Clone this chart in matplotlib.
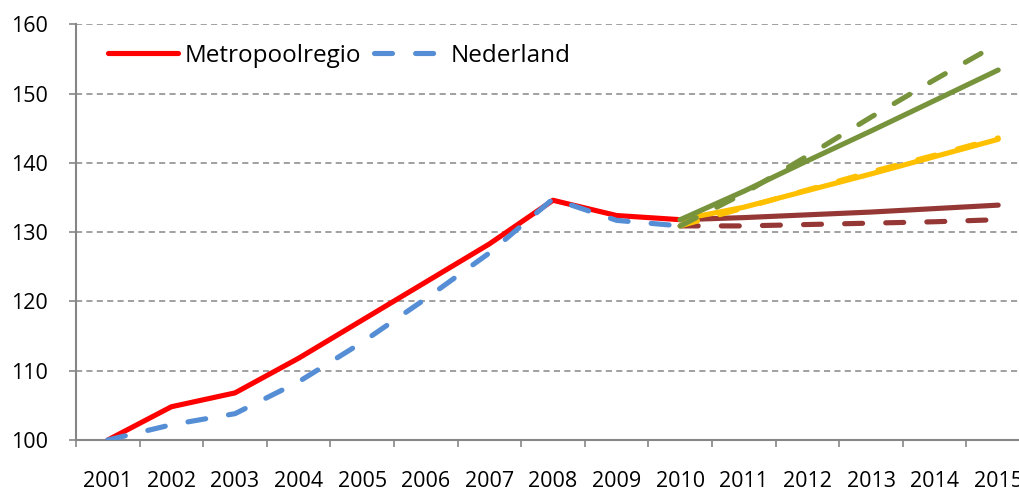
import matplotlib
matplotlib.use("Agg")
import matplotlib.pyplot as plt
import numpy as np

# data
years = ['2001', '2002', '2003', '2004', '2005', '2006', '2007', '2008',
         '2009', '2010', '2011', '2012', '2013', '2014', '2015']
metro = [100, 104.8, 106.8, 111.8, 117.3, 122.8, 128.3, 134.6, 132.4, 131.8]
nederland = [100, 102.2, 103.8, 108.4, 114.1, 120.4, 127.0, 134.8, 131.7, 130.9]

# projections 2010-2015
hoog_metro = [131.8, 135.9, 140.3, 144.6, 149.0, 153.4]
hoog_nl = [130.9, 135.6, 141.0, 146.6, 152.0, 157.2]
mid_metro = [131.8, 133.6, 136.0, 138.4, 140.9, 143.4]
mid_nl = [130.9, 133.5, 136.1, 138.7, 141.1, 143.6]
laag_metro = [131.8, 132.1, 132.5, 132.9, 133.4, 133.9]
laag_nl = [130.9, 130.9, 131.1, 131.3, 131.5, 131.8]

plt.rcParams['font.family'] = ['Open Sans', 'DejaVu Sans']

fig = plt.figure(figsize=(10.19, 4.92), dpi=100)
ax = fig.add_axes([76/1019, 52/492, 954/1019, 415.7/492])

x = np.arange(len(years))
xh = x[:len(metro)]
xp = x[len(metro)-1:]

lw = 3.7
dash = (0, (3.5, 4.5))
grey = '#868686'

ax.plot(xh, metro, color='#FF0000', lw=lw, solid_capstyle='round',
        solid_joinstyle='round', label='Metropoolregio', zorder=3)
ax.plot(xh, nederland, color='#558ED5', lw=lw, ls=dash, dash_capstyle='round',
        label='Nederland', zorder=4)

ax.plot(xp, laag_metro, color='#953735', lw=lw, solid_capstyle='round', zorder=3)
ax.plot(xp, laag_nl, color='#953735', lw=lw, ls=dash, dash_capstyle='round', zorder=3)
ax.plot(xp, mid_metro, color='#FFC000', lw=lw, solid_capstyle='round', zorder=3)
ax.plot(xp, mid_nl, color='#FFC000', lw=lw, ls=dash, dash_capstyle='round', zorder=3)
ax.plot(xp, hoog_nl, color='#77933C', lw=lw, ls=dash, dash_capstyle='round', zorder=3)
ax.plot(xp, hoog_metro, color='#77933C', lw=lw, solid_capstyle='round', zorder=3)

ax.set_xlim(-0.5, len(years) - 0.5)
ax.set_ylim(100, 160)
ax.set_yticks(np.arange(100, 161, 10))
ax.set_xticks(np.arange(-0.5, len(years), 1))
ax.set_xticklabels([])
ax.set_xticks(x, minor=True)
ax.set_xticklabels(years, minor=True)

ax.tick_params(axis='x', which='major', length=5, width=1.2, color=grey)
ax.tick_params(axis='x', which='minor', length=0, pad=22, labelsize=15.5)
ax.tick_params(axis='y', length=5, width=1.2, color=grey, pad=15, labelsize=15.5)

ax.yaxis.grid(True, color=grey, lw=1.1, ls=(0, (4, 2.8)))
ax.set_axisbelow(True)
for s in ['top', 'right']:
    ax.spines[s].set_visible(False)
for s in ['left', 'bottom']:
    ax.spines[s].set_color(grey)
    ax.spines[s].set_linewidth(1.5)
    ax.spines[s].set_zorder(2)

ax.legend(loc='center left', bbox_to_anchor=(0.0335, 0.924), ncol=2,
          frameon=False, fontsize=17.5, borderpad=0, borderaxespad=0,
          handlelength=2.9, handletextpad=0.25, columnspacing=0.55)

fig.savefig('out.png', dpi=100)
